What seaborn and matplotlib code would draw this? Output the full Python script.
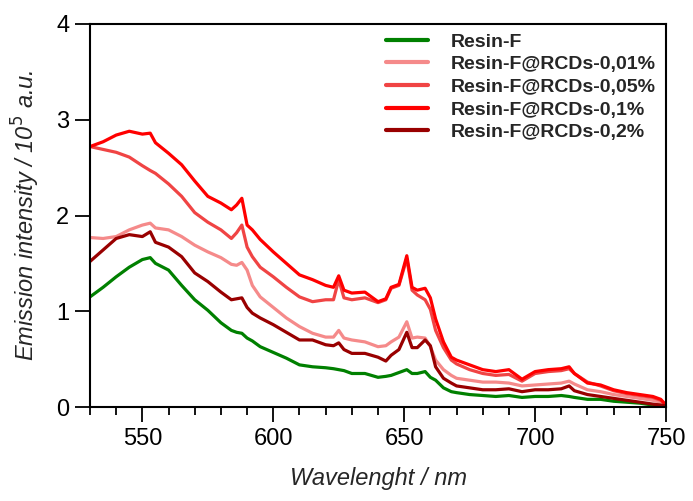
import numpy as np
import pandas as pd
import matplotlib
matplotlib.use("Agg")
import matplotlib.pyplot as plt
import seaborn as sns
from matplotlib.ticker import MultipleLocator
from matplotlib.lines import Line2D

wavelength = [530, 535, 540, 545, 550, 553, 555, 560, 565, 570, 575, 580, 584, 586, 588, 590, 592, 595,
              600, 605, 610, 615, 620, 623, 625, 627, 630, 635, 640, 643, 645, 648, 651, 653, 655, 658,
              660, 662, 665, 668, 670, 675, 680, 685, 690, 695, 700, 705, 710, 713, 715, 720, 725, 730,
              735, 740, 745, 748, 750]

resin_f = [1.15, 1.25, 1.36, 1.46, 1.54, 1.56, 1.50, 1.43, 1.27, 1.12, 1.01, 0.88, 0.80, 0.78, 0.77, 0.72,
           0.69, 0.63, 0.57, 0.51, 0.44, 0.42, 0.41, 0.40, 0.39, 0.38, 0.35, 0.35, 0.31, 0.32, 0.33, 0.36,
           0.39, 0.35, 0.35, 0.37, 0.31, 0.28, 0.20, 0.16, 0.15, 0.13, 0.12, 0.11, 0.12, 0.10, 0.11, 0.11,
           0.12, 0.11, 0.10, 0.08, 0.08, 0.06, 0.05, 0.04, 0.02, 0.02, 0.01]

rcds_001 = [1.77, 1.76, 1.78, 1.85, 1.90, 1.92, 1.87, 1.85, 1.78, 1.69, 1.62, 1.56, 1.49, 1.48, 1.51, 1.43,
            1.27, 1.15, 1.04, 0.93, 0.84, 0.77, 0.73, 0.73, 0.80, 0.72, 0.70, 0.68, 0.63, 0.64, 0.68, 0.73,
            0.89, 0.72, 0.73, 0.72, 0.63, 0.49, 0.39, 0.33, 0.30, 0.28, 0.26, 0.26, 0.25, 0.22, 0.23, 0.24,
            0.25, 0.27, 0.24, 0.18, 0.16, 0.13, 0.11, 0.09, 0.07, 0.05, 0.02]

rcds_005 = [2.72, 2.69, 2.66, 2.61, 2.52, 2.47, 2.44, 2.33, 2.20, 2.03, 1.93, 1.85, 1.76, 1.82, 1.90, 1.67,
            1.57, 1.46, 1.36, 1.25, 1.15, 1.10, 1.12, 1.12, 1.33, 1.14, 1.12, 1.14, 1.09, 1.12, 1.24, 1.27,
            1.55, 1.22, 1.17, 1.12, 1.02, 0.80, 0.62, 0.49, 0.45, 0.39, 0.35, 0.33, 0.34, 0.27, 0.35, 0.37,
            0.38, 0.40, 0.35, 0.26, 0.22, 0.17, 0.14, 0.12, 0.10, 0.07, 0.02]

rcds_01 = [2.72, 2.77, 2.84, 2.88, 2.85, 2.86, 2.76, 2.65, 2.53, 2.36, 2.20, 2.13, 2.06, 2.11, 2.18, 1.90,
           1.85, 1.75, 1.62, 1.50, 1.38, 1.33, 1.27, 1.25, 1.37, 1.22, 1.19, 1.20, 1.10, 1.13, 1.25, 1.28,
           1.58, 1.25, 1.22, 1.24, 1.14, 0.92, 0.68, 0.52, 0.49, 0.44, 0.39, 0.37, 0.39, 0.29, 0.37, 0.39,
           0.40, 0.42, 0.35, 0.25, 0.23, 0.18, 0.15, 0.13, 0.11, 0.08, 0.02]

rcds_02 = [1.52, 1.64, 1.76, 1.80, 1.78, 1.83, 1.72, 1.67, 1.57, 1.40, 1.31, 1.20, 1.12, 1.13, 1.14, 1.04,
           0.98, 0.93, 0.86, 0.78, 0.70, 0.70, 0.65, 0.64, 0.67, 0.60, 0.56, 0.56, 0.52, 0.48, 0.54, 0.60,
           0.78, 0.62, 0.62, 0.70, 0.64, 0.42, 0.30, 0.25, 0.22, 0.20, 0.18, 0.18, 0.19, 0.16, 0.18, 0.18,
           0.19, 0.22, 0.17, 0.13, 0.11, 0.09, 0.07, 0.05, 0.03, 0.02, 0.01]

labels = ["Resin-F", "Resin-F@RCDs-0,01%", "Resin-F@RCDs-0,05%", "Resin-F@RCDs-0,1%", "Resin-F@RCDs-0,2%"]
colors = ["#008000", "#F58A8A", "#F04444", "#FF0000", "#990000"]
series = [resin_f, rcds_001, rcds_005, rcds_01, rcds_02]

frames = []
for lab, vals in zip(labels, series):
    frames.append(pd.DataFrame({"wl": wavelength, "val": vals, "sample": lab}))
df = pd.concat(frames, ignore_index=True)

sns.set_style("ticks")
plt.rcParams["font.family"] = ["Liberation Sans", "DejaVu Sans"]

fig = plt.figure(figsize=(6.93, 5.01), dpi=100)
ax = fig.add_axes([90 / 693, 94 / 501, 576 / 693, 383 / 501])

sns.lineplot(data=df, x="wl", y="val", hue="sample", hue_order=labels,
             palette=dict(zip(labels, colors)), linewidth=2.3, ax=ax, legend=False)

ax.set_xlim(530, 750)
ax.set_ylim(0, 4)
ax.set_xticks([550, 600, 650, 700, 750])
ax.xaxis.set_minor_locator(MultipleLocator(10))
ax.set_yticks([0, 1, 2, 3, 4])

for s in ax.spines.values():
    s.set_linewidth(1.5)
    s.set_color("black")
    s.set_visible(True)

ax.tick_params(axis="both", which="major", direction="out", length=11, width=1.3,
               labelsize=17, colors="black", pad=4)
ax.tick_params(axis="x", which="minor", direction="out", length=6, width=1.3, colors="black")
ax.tick_params(top=False, right=False, which="both")

ax.set_xlabel("Wavelenght / nm", fontsize=17, fontstyle="italic", labelpad=12)
ax.set_ylabel(r"Emission intensity / 10$^{5}$ a.u.", fontsize=17, fontstyle="italic", labelpad=10)

handles = [Line2D([0], [0], color=c, lw=3) for c in colors]
leg = fig.legend(handles, labels, loc="upper left", bbox_to_anchor=(386 / 693, 1 - 33 / 501),
                 frameon=False, prop={"weight": "bold", "size": 14}, handlelength=2.15,
                 handletextpad=1.2, labelspacing=0.26, borderpad=0, borderaxespad=0)

fig.savefig("out.png", dpi=100)
